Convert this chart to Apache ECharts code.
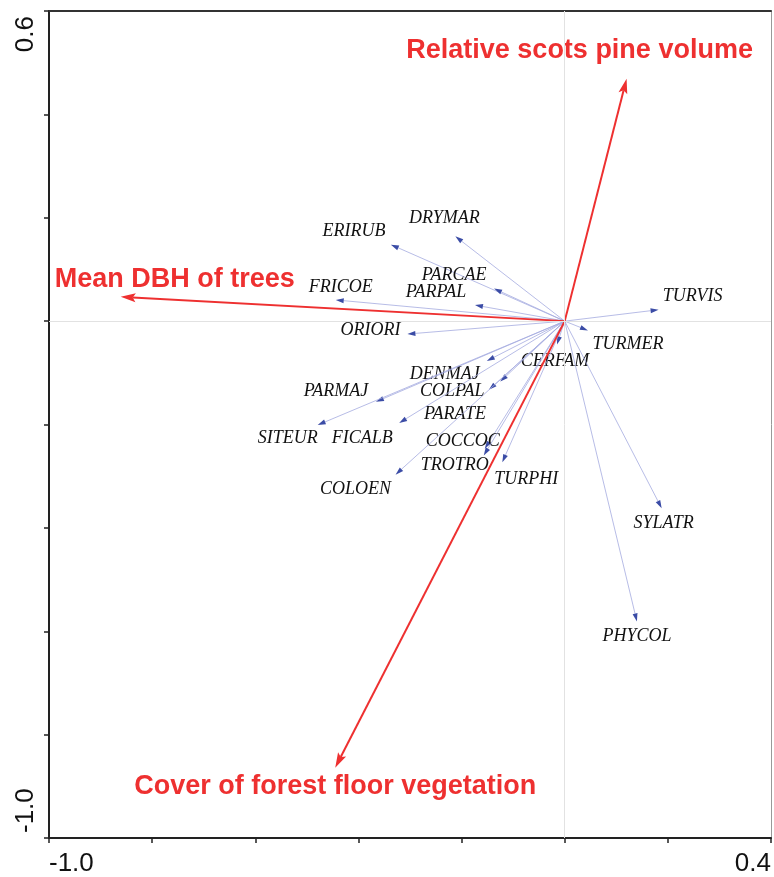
<!DOCTYPE html>
<html><head><meta charset="utf-8">
<script src="https://cdn.jsdelivr.net/npm/echarts@6/dist/echarts.min.js"></script>
<style>html,body{margin:0;padding:0;background:#fff}#c{width:774px;height:877px}</style>
</head><body><div id="c"></div>
<script>
// ---- data ----
const species = ['ERIRUB','DRYMAR','PARCAE','PARPAL','FRICOE','ORIORI','DENMAJ','CERFAM','COLPAL','PARATE','PARMAJ','SITEUR','FICALB','COCCOC','TROTRO','TURPHI','COLOEN','TURVIS','TURMER','SYLATR','PHYCOL'];
const speciesX = [-0.337,-0.212,-0.137,-0.174,-0.444,-0.305,-0.151,-0.015,-0.125,-0.147,-0.366,-0.479,-0.321,-0.155,-0.157,-0.121,-0.328,0.182,0.045,0.188,0.140];
const speciesY = [0.148,0.164,0.063,0.031,0.041,-0.025,-0.077,-0.045,-0.117,-0.133,-0.156,-0.201,-0.197,-0.247,-0.260,-0.273,-0.297,0.022,-0.018,-0.362,-0.581];
const envNames = ['Relative scots pine volume','Mean DBH of trees','Cover of forest floor vegetation'];
const envX = [0.120,-0.861,-0.445];
const envY = [0.469,0.047,-0.864];
const xMin = -1.0, xMax = 0.4, yMin = -1.0, yMax = 0.6, tickStep = 0.2;
const xTickLabels = ['-1.0','0.4'];
const yTickLabels = ['-1.0','0.6'];

// ---- label placement (pixel offsets from arrow tips) ----
const speciesLabelOffset = [[-37,-13],[-11,-18],[-40,-13],[-39,-13],[5,-13],[-37,-4],[-42,13],[-2,17],[-48,10],[-34,24],[-40,-10],[-30,13],[-37,15],[-22,-8],[-29,10],[24,17],[-40,15],[34,-13],[40,14],[2,15],[0,15]];
const envLabelOffset = [[-47,-28],[54,-17],[0,19]];

function arrowShapes(p0, p1, len, wid, notch) {
  const dx = p1[0]-p0[0], dy = p1[1]-p0[1];
  const L = Math.hypot(dx, dy) || 1;
  const ux = dx/L, uy = dy/L;
  const b = [p1[0]-ux*len, p1[1]-uy*len];
  const l = [b[0]-uy*wid/2, b[1]+ux*wid/2];
  const r = [b[0]+uy*wid/2, b[1]-ux*wid/2];
  const n = [p1[0]-ux*len*notch, p1[1]-uy*len*notch];
  return {lineEnd: n, poly: notch < 1 ? [p1, l, n, r] : [p1, l, r]};
}

function makeRender(names, offsets, opt) {
  return function (params, api) {
    const i = api.value(2);
    const o = api.coord([0, 0]);
    const p = api.coord([api.value(0), api.value(1)]);
    const a = arrowShapes(o, p, opt.len, opt.wid, opt.notch);
    const off = offsets[i];
    return {
      type: 'group',
      children: [
        {type: 'line', shape: {x1: o[0], y1: o[1], x2: a.lineEnd[0], y2: a.lineEnd[1]}, style: {stroke: opt.lineColor, lineWidth: opt.lineWidth}},
        {type: 'polygon', shape: {points: a.poly}, style: {fill: opt.headColor}},
        {type: 'text', style: {text: names[i], x: p[0]+off[0], y: p[1]+off[1], align: 'center', verticalAlign: 'middle', font: opt.font, fill: opt.textColor}}
      ]
    };
  };
}

const fmt = (labels, lo, hi) => (v) => Math.abs(v - lo) < 1e-9 ? labels[0] : (Math.abs(v - hi) < 1e-9 ? labels[1] : '');

const chart = echarts.init(document.getElementById('c'), null, {renderer: 'canvas'});
chart.setOption({
  animation: false,
  backgroundColor: '#fff',
  grid: {left: 49, right: 1, top: 11, bottom: 37, containLabel: false},
  xAxis: [
    {type: 'value', min: xMin, max: xMax, interval: tickStep, position: 'bottom',
     axisLine: {show: true, onZero: false, lineStyle: {color: '#222', width: 2}},
     axisTick: {show: true, inside: false, length: 5, lineStyle: {color: '#222', width: 1.5}},
     splitLine: {show: false},
     axisLabel: {show: true, formatter: fmt(xTickLabels, xMin, xMax), fontSize: 26, fontFamily: 'Liberation Sans', color: '#111', margin: 13, alignMinLabel: 'left', alignMaxLabel: 'right', showMinLabel: true, showMaxLabel: true, hideOverlap: false}},
    {type: 'value', min: xMin, max: xMax, position: 'top',
     axisLine: {show: true, onZero: false, lineStyle: {color: '#333', width: 2}},
     axisTick: {show: false}, axisLabel: {show: false}, splitLine: {show: false}}
  ],
  yAxis: [
    {type: 'value', min: yMin, max: yMax, interval: tickStep, position: 'left',
     axisLine: {show: true, onZero: false, lineStyle: {color: '#222', width: 2}},
     axisTick: {show: true, inside: false, length: 5, lineStyle: {color: '#222', width: 1.5}},
     splitLine: {show: false},
     axisLabel: {show: true, rotate: 90, formatter: fmt(yTickLabels, yMin, yMax), fontSize: 26, fontFamily: 'Liberation Sans', color: '#111', margin: 10, padding: [0, 5, 0, 5], alignMinLabel: 'left', alignMaxLabel: 'right', showMinLabel: true, showMaxLabel: true, hideOverlap: false}},
    {type: 'value', min: yMin, max: yMax, position: 'right',
     axisLine: {show: true, onZero: false, lineStyle: {color: '#999', width: 1}},
     axisTick: {show: false}, axisLabel: {show: false}, splitLine: {show: false}}
  ],
  series: [
    {type: 'scatter', data: [], silent: true,
     markLine: {silent: true, symbol: 'none', label: {show: false}, animation: false,
       lineStyle: {color: '#e2e2e2', width: 1, type: 'solid'},
       data: [{xAxis: 0}, {yAxis: 0}]}},
    {type: 'custom', name: 'species', clip: false, silent: true,
     renderItem: makeRender(species, speciesLabelOffset, {len: 8, wid: 5, notch: 1, lineColor: '#a4abdf', lineWidth: 0.8, headColor: '#3b4ca6', textColor: '#111', font: 'italic 18px "Liberation Serif"'}),
     encode: {x: 0, y: 1},
     data: species.map((s, i) => [speciesX[i], speciesY[i], i])},
    {type: 'custom', name: 'env', clip: false, silent: true,
     renderItem: makeRender(envNames, envLabelOffset, {len: 15, wid: 9, notch: 0.8, lineColor: '#ee3030', lineWidth: 2, headColor: '#ee3030', textColor: '#ee3030', font: 'bold 27px "Liberation Sans"'}),
     encode: {x: 0, y: 1},
     data: envNames.map((s, i) => [envX[i], envY[i], i])}
  ]
});
</script></body></html>
